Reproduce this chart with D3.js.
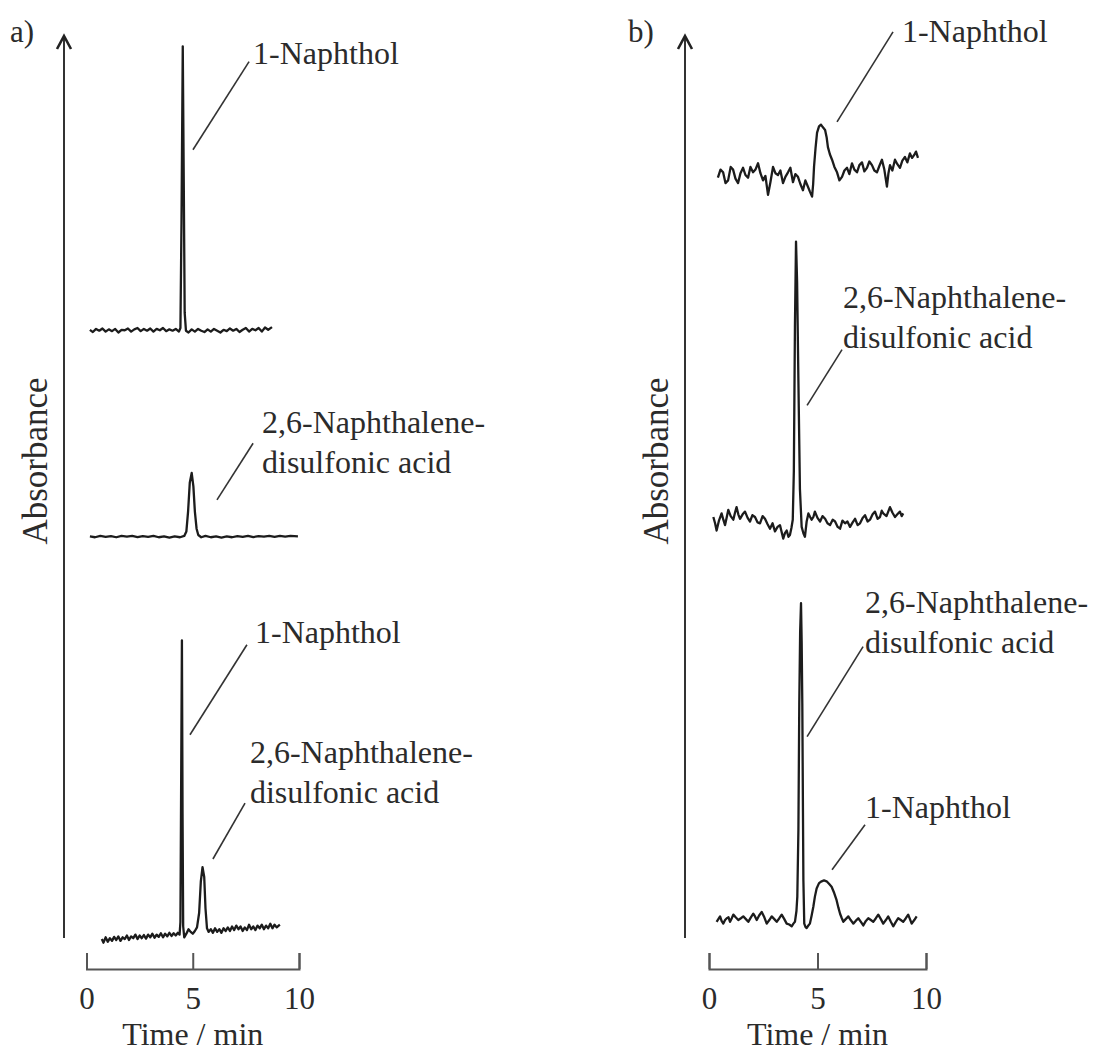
<!DOCTYPE html>
<html>
<head>
<meta charset="utf-8">
<script src="https://cdn.jsdelivr.net/npm/d3@7"></script>
<style>
  html, body { margin: 0; padding: 0; background: #fff; }
  svg text { font-family: "Liberation Serif", "Times New Roman", serif; fill: #2b2b2b; }
</style>
</head>
<body>
<svg id="fig" width="1102" height="1052"></svg>
<script>
// ---- Chromatogram data: [time (min), absorbance (a.u.) relative to trace baseline] ----

// Panel a, top: 1-Naphthol alone
const a1Trace = [[0.16,0.1],[0.3,-0.15],[0.45,0.2],[0.6,0.0],[0.75,0.25],[0.9,-0.1],[1.05,0.15],[1.2,-0.05],[1.35,0.2],[1.5,-0.2],[1.65,0.1],[1.8,0.05],[1.95,0.25],[2.1,-0.1],[2.25,0.15],[2.4,0.3],[2.55,-0.05],[2.7,0.2],[2.85,0.0],[3.0,0.25],[3.15,-0.1],[3.3,0.2],[3.45,0.05],[3.6,0.3],[3.75,-0.05],[3.9,0.15],[4.05,0.0],[4.2,0.2],[4.35,-0.1],[4.42,0.3],[4.47,12.0],[4.53,31.6],[4.58,15.5],[4.62,2.0],[4.68,0.0],[4.8,-0.2],[4.95,0.15],[5.1,-0.1],[5.25,0.2],[5.4,0.0],[5.55,-0.15],[5.7,0.15],[5.85,-0.1],[6.0,0.2],[6.15,0.0],[6.3,-0.2],[6.45,0.1],[6.6,-0.05],[6.75,0.25],[6.9,0.0],[7.05,0.2],[7.2,-0.15],[7.35,0.1],[7.5,0.3],[7.65,-0.1],[7.8,0.2],[7.95,0.05],[8.1,0.3],[8.25,-0.1],[8.4,0.35],[8.55,0.1],[8.73,0.4]];

// Panel a, middle: 2,6-naphthalenedisulfonic acid alone
const a2Trace = [[0.16,0.05],[0.4,-0.05],[0.65,0.1],[0.9,0.0],[1.15,0.08],[1.4,-0.05],[1.65,0.1],[1.9,0.02],[2.15,0.1],[2.4,-0.04],[2.65,0.08],[2.9,0.0],[3.15,0.1],[3.4,-0.05],[3.65,0.05],[3.9,-0.1],[4.15,0.05],[4.4,-0.05],[4.6,0.1],[4.7,0.6],[4.78,2.8],[4.86,6.0],[4.95,7.1],[5.03,5.6],[5.1,2.8],[5.18,0.9],[5.26,0.2],[5.4,-0.05],[5.6,0.1],[5.85,-0.05],[6.1,0.05],[6.35,-0.08],[6.6,0.05],[6.85,-0.05],[7.1,0.08],[7.35,0.0],[7.6,0.1],[7.85,-0.03],[8.1,0.08],[8.35,0.02],[8.6,0.1],[8.85,0.0],[9.1,0.1],[9.35,0.03],[9.6,0.1],[9.95,0.05]];

// Panel a, bottom: mixture
const a3Trace = [[0.72,0.1],[0.8,-0.3],[0.9,0.3],[1.0,-0.2],[1.1,0.2],[1.2,-0.1],[1.3,0.35],[1.4,0.0],[1.5,0.4],[1.6,-0.1],[1.7,0.3],[1.8,0.1],[1.9,0.5],[2.0,0.0],[2.1,0.4],[2.2,0.2],[2.3,0.6],[2.4,0.1],[2.5,0.5],[2.6,0.2],[2.7,0.55],[2.8,0.15],[2.9,0.6],[3.0,0.3],[3.1,0.7],[3.2,0.25],[3.3,0.6],[3.4,0.35],[3.5,0.75],[3.6,0.3],[3.7,0.7],[3.8,0.4],[3.9,0.8],[4.0,0.45],[4.1,0.75],[4.2,0.5],[4.3,0.8],[4.38,0.6],[4.42,2.0],[4.46,20.0],[4.49,33.3],[4.52,14.0],[4.55,1.5],[4.6,0.3],[4.7,0.7],[4.8,1.2],[4.9,0.9],[5.0,0.7],[5.1,1.0],[5.2,1.4],[5.3,3.0],[5.38,6.5],[5.46,8.1],[5.54,7.0],[5.6,3.5],[5.67,1.3],[5.75,0.9],[5.85,1.2],[5.95,0.8],[6.05,1.3],[6.15,0.9],[6.25,1.2],[6.35,0.8],[6.45,1.3],[6.55,1.0],[6.65,1.4],[6.75,1.0],[6.85,1.5],[6.95,1.1],[7.05,1.6],[7.15,1.2],[7.25,1.5],[7.35,1.0],[7.45,1.4],[7.55,1.1],[7.65,1.7],[7.75,1.2],[7.85,1.5],[7.95,1.1],[8.05,1.6],[8.15,1.3],[8.25,1.7],[8.35,1.2],[8.45,1.6],[8.55,1.3],[8.65,1.8],[8.75,1.3],[8.85,1.7],[8.95,1.4],[9.1,1.7]];

// Panel b, top: 1-Naphthol alone
const b1Trace = [[0.41,-0.3],[0.53,0.6],[0.65,0.3],[0.76,-0.9],[0.88,-0.6],[1.0,0.9],[1.11,0.6],[1.22,-0.4],[1.34,-0.9],[1.45,0.2],[1.57,0.8],[1.68,0.0],[1.80,-0.3],[1.91,0.9],[2.03,0.3],[2.14,0.6],[2.26,1.3],[2.37,0.2],[2.49,-0.6],[2.60,-0.1],[2.72,-2.2],[2.83,-0.8],[2.95,0.9],[3.06,0.2],[3.18,0.0],[3.29,0.5],[3.41,-0.9],[3.52,-0.2],[3.64,0.3],[3.75,0.8],[3.87,-0.8],[3.98,0.1],[4.10,-0.2],[4.21,-1.0],[4.33,-1.7],[4.44,-0.6],[4.56,-1.3],[4.66,-1.9],[4.75,-2.4],[4.80,-1.0],[4.84,0.9],[4.91,3.0],[4.98,4.7],[5.07,5.4],[5.16,5.6],[5.25,5.3],[5.35,5.0],[5.42,4.2],[5.48,3.1],[5.57,2.3],[5.67,1.7],[5.78,0.9],[5.90,0.3],[6.01,-0.6],[6.13,-0.2],[6.24,0.5],[6.36,0.8],[6.47,0.1],[6.59,1.3],[6.70,0.6],[6.82,0.3],[6.93,1.1],[7.05,1.4],[7.16,0.4],[7.28,0.8],[7.39,1.5],[7.51,1.1],[7.62,0.5],[7.74,0.3],[7.85,1.0],[7.97,1.7],[8.08,0.6],[8.20,-1.3],[8.27,0.2],[8.34,1.1],[8.45,0.5],[8.57,1.7],[8.68,1.2],[8.80,0.8],[8.91,1.6],[9.03,2.0],[9.14,1.4],[9.26,2.4],[9.36,1.9],[9.45,2.2],[9.54,2.6],[9.63,1.9]];

// Panel b, middle: 2,6-naphthalenedisulfonic acid alone
const b2Trace = [[0.20,0.9],[0.28,0.2],[0.35,-0.6],[0.46,0.5],[0.58,1.3],[0.66,0.6],[0.74,0.0],[0.82,0.9],[0.89,1.7],[1.0,1.0],[1.12,0.6],[1.20,1.4],[1.27,2.0],[1.35,1.2],[1.43,0.7],[1.55,1.2],[1.66,1.5],[1.78,0.8],[1.89,0.4],[2.0,1.1],[2.12,0.9],[2.24,0.3],[2.35,0.2],[2.47,1.0],[2.58,0.7],[2.70,0.1],[2.81,-0.4],[2.93,0.2],[3.04,-0.7],[3.16,-0.2],[3.27,0.0],[3.35,-0.8],[3.42,-1.5],[3.50,-0.9],[3.58,-0.6],[3.66,-1.3],[3.73,-1.1],[3.80,-0.3],[3.86,0.6],[3.91,6.0],[3.96,22.0],[4.01,31.5],[4.06,27.0],[4.12,16.0],[4.19,4.0],[4.27,-0.2],[4.35,-0.9],[4.42,-1.3],[4.50,0.4],[4.58,1.3],[4.66,0.9],[4.73,0.6],[4.81,0.9],[4.88,1.5],[5.0,0.8],[5.12,0.4],[5.23,1.0],[5.35,0.7],[5.46,0.2],[5.58,0.0],[5.70,0.6],[5.81,0.4],[5.93,-0.2],[6.04,-0.4],[6.15,0.5],[6.27,0.2],[6.38,0.4],[6.50,-0.2],[6.62,0.3],[6.73,0.7],[6.85,0.0],[6.96,0.2],[7.08,0.8],[7.19,1.1],[7.31,0.4],[7.42,0.6],[7.54,1.2],[7.65,1.5],[7.77,0.7],[7.88,0.9],[7.96,1.6],[8.03,1.3],[8.18,1.0],[8.34,2.0],[8.45,1.4],[8.57,0.9],[8.68,1.2],[8.80,1.5],[8.88,1.0],[8.95,1.3]];

// Panel b, bottom: mixture
const b3Trace = [[0.35,-0.2],[0.43,0.1],[0.51,0.4],[0.58,-0.1],[0.66,-0.4],[0.74,0.0],[0.82,0.2],[0.90,0.3],[0.97,-0.2],[1.05,0.2],[1.12,0.6],[1.23,0.3],[1.35,0.0],[1.47,0.2],[1.58,0.4],[1.70,0.1],[1.81,-0.2],[1.93,0.3],[2.04,0.7],[2.12,0.4],[2.20,0.0],[2.31,0.5],[2.43,0.9],[2.55,0.3],[2.66,-0.4],[2.78,0.0],[2.89,0.4],[3.01,0.1],[3.12,-0.2],[3.24,0.2],[3.35,0.6],[3.47,0.1],[3.58,-0.4],[3.70,-0.5],[3.81,-0.7],[3.89,-0.4],[3.96,-0.2],[4.03,1.0],[4.07,2.6],[4.12,10.0],[4.16,24.0],[4.20,32.0],[4.24,35.2],[4.27,31.0],[4.30,24.0],[4.33,12.0],[4.35,4.4],[4.39,-0.4],[4.45,-0.8],[4.50,-0.9],[4.58,-0.6],[4.65,-0.4],[4.73,0.5],[4.81,1.5],[4.88,2.6],[4.96,3.5],[5.07,4.1],[5.19,4.3],[5.30,4.4],[5.42,4.3],[5.54,4.0],[5.65,3.7],[5.77,3.0],[5.88,2.2],[5.96,1.4],[6.04,0.7],[6.12,0.2],[6.19,-0.2],[6.30,0.1],[6.42,0.4],[6.53,0.0],[6.65,-0.4],[6.76,-0.1],[6.88,0.2],[7.0,-0.2],[7.11,-0.6],[7.23,-0.1],[7.34,0.2],[7.46,0.0],[7.57,-0.2],[7.69,0.2],[7.80,0.6],[7.92,0.1],[8.03,-0.4],[8.15,0.0],[8.26,0.4],[8.38,-0.2],[8.49,-0.7],[8.61,-0.2],[8.72,0.2],[8.84,0.0],[8.95,-0.2],[9.07,0.2],[9.18,0.6],[9.26,0.1],[9.34,-0.4],[9.46,0.0],[9.57,0.4]];

// Vertical offsets of the stacked traces (absorbance units)
const offsetsA = [67.7, 44.8, 0.0];
const offsetsB = [85.0, 46.1, 2.22];

// Axis ticks
const timeTicks = [0, 5, 10];
const timeDomain = [0, 10];
const absDomain = [0, 100];

// Peak labels: text lines, label anchor (time, abs), leader line start and end (time, abs)
const notesA = [
  { lines: ["1-Naphthol"], at: [7.84, 97.3], from: [7.65, 97.6], to: [5.01, 87.8] },
  { lines: ["2,6-Naphthalene-", "disulfonic acid"], at: [8.26, 56.3], from: [7.84, 55.2], to: [6.14, 48.9] },
  { lines: ["1-Naphthol"], at: [7.93, 33.0], from: [7.55, 32.8], to: [4.87, 22.8] },
  { lines: ["2,6-Naphthalene-", "disulfonic acid"], at: [7.69, 19.7], from: [7.46, 15.2], to: [5.95, 9.0] }
];
const notesB = [
  { lines: ["1-Naphthol"], at: [8.89, 99.8], from: [8.48, 100.9], to: [5.90, 90.9] },
  { lines: ["2,6-Naphthalene-", "disulfonic acid"], at: [6.18, 70.2], from: [6.13, 65.6], to: [4.52, 59.4] },
  { lines: ["2,6-Naphthalene-", "disulfonic acid"], at: [7.19, 36.3], from: [7.10, 32.6], to: [4.52, 22.6] },
  { lines: ["1-Naphthol"], at: [7.19, 13.6], from: [7.19, 12.8], to: [5.67, 7.8] }
];

// ---- Drawing ----
const svg = d3.select("#fig");
const y = d3.scaleLinear().domain(absDomain).range([940, 40]);

const panels = [
  { tag: "a)", tagX: 10, axisX: 64, xRange: [86.5, 299], traces: [a1Trace, a2Trace, a3Trace], offsets: offsetsA, notes: notesA },
  { tag: "b)", tagX: 628, axisX: 685, xRange: [709, 926], traces: [b1Trace, b2Trace, b3Trace], offsets: offsetsB, notes: notesB }
];

panels.forEach(p => {
  const x = d3.scaleLinear().domain(timeDomain).range(p.xRange);
  const g = svg.append("g");

  // panel tag
  g.append("text").attr("x", p.tagX).attr("y", 42).attr("font-size", 31).text(p.tag);

  // vertical absorbance arrow
  g.append("line")
    .attr("x1", p.axisX).attr("x2", p.axisX)
    .attr("y1", 938).attr("y2", 37)
    .attr("stroke", "#333").attr("stroke-width", 2);
  g.append("path")
    .attr("d", `M${p.axisX - 7},49 L${p.axisX},36 L${p.axisX + 7},49`)
    .attr("fill", "none").attr("stroke", "#222").attr("stroke-width", 2.6);

  g.append("text")
    .attr("transform", `translate(${p.axisX - 17},461) rotate(-90)`)
    .attr("text-anchor", "middle").attr("font-size", 35)
    .text("Absorbance");

  // time axis: bracket with upward ticks
  const ax = g.append("g").attr("transform", "translate(0,969)")
    .call(d3.axisBottom(x).tickValues(timeTicks).tickSizeInner(-16).tickSizeOuter(-16).tickFormat(d3.format("d")));
  ax.select(".domain").attr("stroke", "#555").attr("stroke-width", 2);
  ax.selectAll(".tick line").attr("stroke", "#555").attr("stroke-width", 2);
  ax.selectAll(".tick text")
    .attr("y", 40).attr("dy", 0)
    .attr("font-size", 31)
    .attr("font-family", "Liberation Serif, Times New Roman, serif")
    .attr("fill", "#2b2b2b");

  g.append("text")
    .attr("x", (p.xRange[0] + p.xRange[1]) / 2).attr("y", 1045)
    .attr("text-anchor", "middle").attr("font-size", 32)
    .text("Time / min");

  // chromatogram traces
  p.traces.forEach((tr, i) => {
    const off = p.offsets[i];
    const line = d3.line().x(d => x(d[0])).y(d => y(d[1] + off));
    g.append("path")
      .attr("d", line(tr))
      .attr("fill", "none")
      .attr("stroke", "#1c1c1c")
      .attr("stroke-width", 2.3)
      .attr("stroke-linejoin", "round");
  });

  // peak annotations
  p.notes.forEach(n => {
    g.append("line")
      .attr("x1", x(n.from[0])).attr("y1", y(n.from[1]))
      .attr("x2", x(n.to[0])).attr("y2", y(n.to[1]))
      .attr("stroke", "#333").attr("stroke-width", 1.6);
    const t = g.append("text")
      .attr("x", x(n.at[0])).attr("y", y(n.at[1]))
      .attr("font-size", 32);
    n.lines.forEach((s, k) => {
      t.append("tspan").attr("x", x(n.at[0])).attr("dy", k === 0 ? 0 : 40).text(s);
    });
  });
});
</script>
</body>
</html>
